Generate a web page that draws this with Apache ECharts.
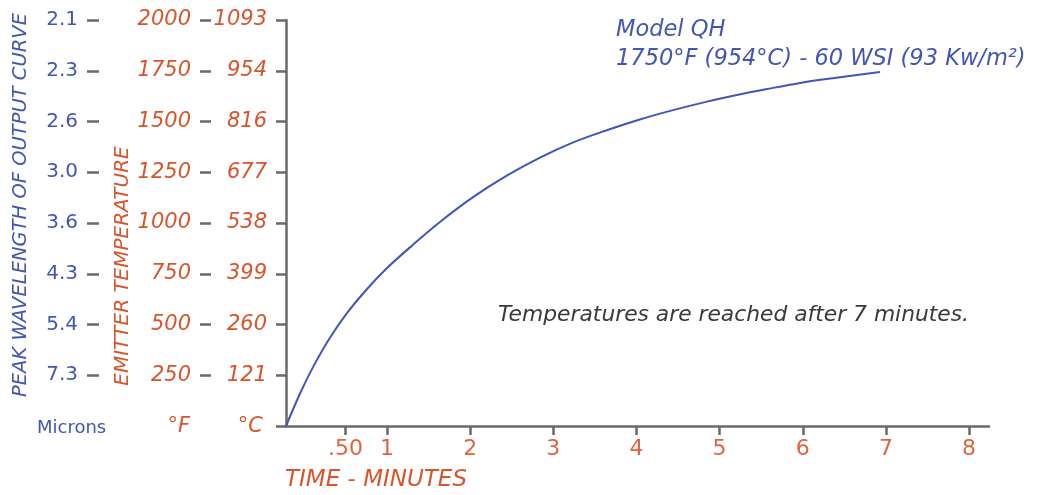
<!DOCTYPE html>
<html>
<head>
<meta charset="utf-8">
<script src="https://cdn.jsdelivr.net/npm/echarts@6/dist/echarts.min.js"></script>
<style>html,body{margin:0;padding:0;background:#fff}#c{width:1042px;height:495px}</style>
</head>
<body>
<div id="c"></div>
<script>
// ---- data ----
const timeMinutes = [-0.215, -0.046, 0.11, 0.31, 0.52, 0.76, 1.0, 1.31, 1.64, 2.03, 2.44, 2.84, 3.24, 3.65, 4.04, 4.44, 4.85, 5.25, 5.57, 5.97, 6.36, 6.93];
const tempF = [0, 160, 290, 432, 557, 675, 778, 892, 1006, 1126, 1233, 1322, 1397, 1458, 1510, 1556, 1598, 1634, 1660, 1690, 1713, 1744];
const fahrenheitTicks = [0, 250, 500, 750, 1000, 1250, 1500, 1750, 2000];
const fahrenheitLabels = ['', '250', '500', '750', '1000', '1250', '1500', '1750', '2000'];
const celsiusLabels = ['', '121', '260', '399', '538', '677', '816', '954', '1093'];
const micronLabels = ['', '7.3', '5.4', '4.3', '3.6', '3.0', '2.6', '2.3', '2.1'];
const timeTicks = [0.5, 1, 2, 3, 4, 5, 6, 7, 8];
const timeLabels = ['.50', '1', '2', '3', '4', '5', '6', '7', '8'];

const BLUE = '#4356b2';
const ORANGE = '#d8552c';
const GRAY = '#6a6a6a';
const FONT = 'DejaVu Sans';

const chart = echarts.init(document.getElementById('c'));
const tickNoZero = fahrenheitTicks.slice(1);
function lab(arr) { return v => { const i = fahrenheitTicks.indexOf(v); return i < 0 ? '' : arr[i]; }; }

const option = {
  backgroundColor: '#fff',
  animation: false,
  title: {
    text: 'Model QH\n1750°F (954°C) - 60 WSI (93 Kw/m²)',
    left: 611, top: 11,
    textStyle: { color: BLUE, fontFamily: FONT, fontStyle: 'italic', fontWeight: 'normal', fontSize: 22.5, lineHeight: 29 }
  },
  grid: { left: 286, right: 53, top: 20, bottom: 69 },
  xAxis: {
    type: 'value', min: -0.215, max: 8.24,
    axisLine: { show: true, onZero: false, lineStyle: { color: GRAY, width: 2.5 } },
    axisTick: { show: true, length: 9, customValues: timeTicks, lineStyle: { color: GRAY, width: 2.5 } },
    axisLabel: {
      customValues: timeTicks, margin: 12,
      formatter: v => { const i = timeTicks.indexOf(v); return i < 0 ? '' : timeLabels[i]; },
      color: '#e0653e', fontFamily: FONT, fontSize: 22
    },
    splitLine: { show: false }
  },
  yAxis: [
    {
      type: 'value', min: 0, max: 2000, interval: 250, position: 'left', offset: 0,
      axisLine: { show: true, onZero: false, lineStyle: { color: GRAY, width: 2.5 } },
      axisTick: { show: true, length: 10, lineStyle: { color: GRAY, width: 2.5 } },
      axisLabel: { margin: 19, formatter: lab(celsiusLabels), color: ORANGE, fontFamily: FONT, fontStyle: 'italic', fontSize: 21 },
      splitLine: { show: false }
    },
    {
      type: 'value', min: 0, max: 2000, interval: 250, position: 'left', offset: 75,
      axisLine: { show: false, onZero: false },
      axisTick: { show: true, length: 11, customValues: tickNoZero, lineStyle: { color: GRAY, width: 2.5 } },
      axisLabel: { margin: 20, customValues: tickNoZero, formatter: lab(fahrenheitLabels), color: ORANGE, fontFamily: FONT, fontStyle: 'italic', fontSize: 21 },
      splitLine: { show: false }
    },
    {
      type: 'value', min: 0, max: 2000, interval: 250, position: 'left', offset: 187,
      axisLine: { show: false, onZero: false },
      axisTick: { show: true, length: 12, customValues: tickNoZero, lineStyle: { color: GRAY, width: 2.5 } },
      axisLabel: { margin: 21, customValues: tickNoZero, formatter: lab(micronLabels), color: BLUE, fontFamily: FONT, fontSize: 20 },
      splitLine: { show: false }
    }
  ],
  series: [{
    type: 'line', smooth: 0.35, showSymbol: false,
    data: timeMinutes.map((t, i) => [t, tempF[i]]),
    lineStyle: { color: '#4255b8', width: 2 }
  }],
  graphic: [
    { type: 'text', x: 21, y: 205, rotation: Math.PI / 2,
      style: { text: 'PEAK WAVELENGTH OF OUTPUT CURVE', fill: BLUE, font: 'italic 19.5px "DejaVu Sans"', textAlign: 'center', textVerticalAlign: 'middle' } },
    { type: 'text', x: 123, y: 266, rotation: Math.PI / 2,
      style: { text: 'EMITTER TEMPERATURE', fill: ORANGE, font: 'italic 20px "DejaVu Sans"', textAlign: 'center', textVerticalAlign: 'middle' } },
    { type: 'text', x: 37, y: 428,
      style: { text: 'Microns', fill: BLUE, font: '18px "DejaVu Sans"', textAlign: 'left', textVerticalAlign: 'middle' } },
    { type: 'text', x: 190, y: 427,
      style: { text: '°F', fill: ORANGE, font: 'italic 21px "DejaVu Sans"', textAlign: 'right', textVerticalAlign: 'middle' } },
    { type: 'text', x: 263, y: 427,
      style: { text: '°C', fill: ORANGE, font: 'italic 21px "DejaVu Sans"', textAlign: 'right', textVerticalAlign: 'middle' } },
    { type: 'text', x: 285, y: 480,
      style: { text: 'TIME - MINUTES', fill: ORANGE, font: 'italic 23px "DejaVu Sans"', textAlign: 'left', textVerticalAlign: 'middle' } },
    { type: 'text', x: 498, y: 315,
      style: { text: 'Temperatures are reached after 7 minutes.', fill: '#3a3a3a', font: 'italic 21.8px "DejaVu Sans"', textAlign: 'left', textVerticalAlign: 'middle' } }
  ]
};
chart.setOption(option);
</script>
</body>
</html>
